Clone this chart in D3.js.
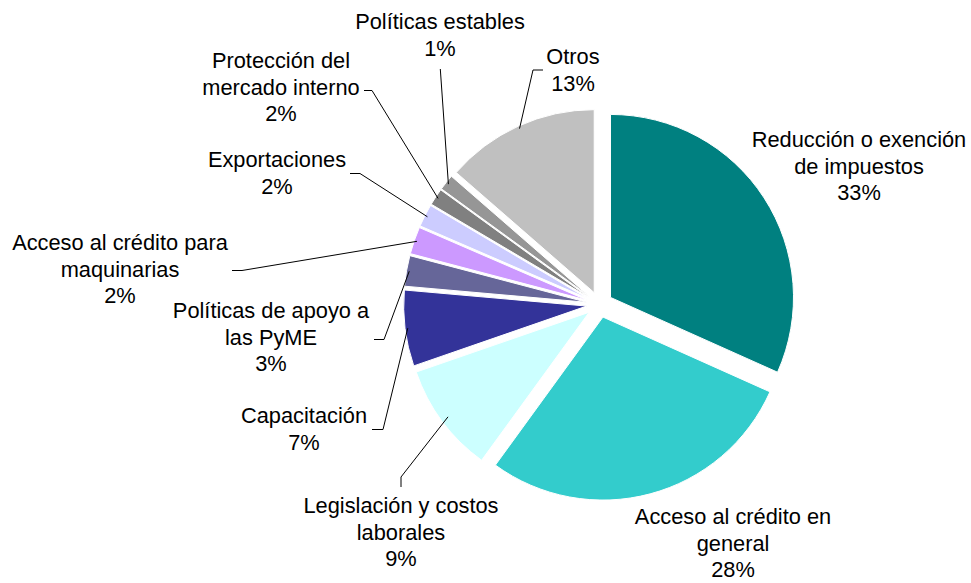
<!DOCTYPE html>
<html>
<head>
<meta charset="utf-8">
<script src="https://cdn.jsdelivr.net/npm/d3@7"></script>
<style>
  html, body { margin: 0; padding: 0; background: #fff; }
  svg { display: block; }
  text { font-family: "Liberation Sans", Arial, sans-serif; fill: #000; }
</style>
</head>
<body>
<svg id="chart" width="971" height="583"></svg>
<script>
// ---- data ----
const categories = [
  "Reducción o exención de impuestos",
  "Acceso al crédito en general",
  "Legislación y costos laborales",
  "Capacitación",
  "Políticas de apoyo a las PyME",
  "Acceso al crédito para maquinarias",
  "Exportaciones",
  "Protección del mercado interno",
  "Políticas estables",
  "Otros"
];
const labelLines = [
  ["Reducción o exención", "de impuestos"],
  ["Acceso al crédito en", "general"],
  ["Legislación y costos", "laborales"],
  ["Capacitación"],
  ["Políticas de apoyo a", "las PyME"],
  ["Acceso al crédito para", "maquinarias"],
  ["Exportaciones"],
  ["Protección del", "mercado interno"],
  ["Políticas estables"],
  ["Otros"]
];
const values = [31.7, 28.3, 9.7, 6.7, 2.7, 2.4, 2.0, 1.5, 1.4, 13.6];
const pctLabels = ["33%", "28%", "9%", "7%", "3%", "2%", "2%", "2%", "1%", "13%"];
const colors = ["#008080", "#33CCCC", "#CCFFFF", "#333399", "#666699",
                "#CC99FF", "#CCCCFF", "#808080", "#969696", "#C0C0C0"];

// ---- layout (label positions and leader elbows) ----
const layout = [
  { x: 859, y: 147, leader: null },
  { x: 733, y: 524, leader: null },
  { x: 401, y: 513, leader: [[401, 487], [401, 477]], r: 0.96 },
  { x: 304, y: 423, leader: [[372, 429.5], [383, 429.5]] },
  { x: 271, y: 318, leader: [[374, 339.5], [384, 339.5]] },
  { x: 120, y: 250, leader: [[232, 270.5], [242, 270.5]] },
  { x: 277, y: 167, leader: [[350, 173.5], [360, 173.5]] },
  { x: 281, y: 68,  leader: [[364, 90.5], [372, 90.5]] },
  { x: 440, y: 29,  leader: [[440.3, 69]] },
  { x: 573, y: 64,  leader: [[543, 70], [533, 70]] }
];

const W = 971, H = 583;
const cx = 599.6, cy = 304.5;
const R = 183, explode = 13;
const fontSize = 21.8, lineH = 26.5;

const svg = d3.select("#chart");
const g = svg.append("g").attr("transform", `translate(${cx},${cy})`);

const pie = d3.pie().sort(null).value(d => d).startAngle(0).endAngle(2 * Math.PI);
const arcs = pie(values);
const arc = d3.arc().innerRadius(0).outerRadius(R);

function dirOf(a) { return [Math.sin(a), -Math.cos(a)]; }

arcs.forEach((a, i) => {
  const mid = (a.startAngle + a.endAngle) / 2;
  const [dx, dy] = dirOf(mid);
  a.offset = [dx * explode, dy * explode];
  a.mid = mid;
});

g.selectAll("path.slice")
  .data(arcs)
  .join("path")
  .attr("class", "slice")
  .attr("d", arc)
  .attr("transform", d => `translate(${d.offset[0]},${d.offset[1]})`)
  .attr("fill", (d, i) => colors[i])
  .attr("stroke", "#fff")
  .attr("stroke-width", 1);

// leader lines
const lineGen = d3.line();
arcs.forEach((a, i) => {
  const L = layout[i];
  if (!L.leader) return;
  const [dx, dy] = dirOf(a.mid);
  const rr = R * (L.r || 0.985);
  const end = [cx + a.offset[0] + dx * rr, cy + a.offset[1] + dy * rr];
  const pts = L.leader.concat([end]);
  svg.append("path")
    .attr("d", lineGen(pts))
    .attr("fill", "none")
    .attr("stroke", "#000")
    .attr("stroke-width", 1);
});

// labels
arcs.forEach((a, i) => {
  const L = layout[i];
  const lines = labelLines[i].concat([pctLabels[i]]);
  const t = svg.append("text")
    .attr("text-anchor", "middle")
    .attr("font-size", fontSize);
  lines.forEach((ln, k) => {
    t.append("tspan")
      .attr("x", L.x)
      .attr("y", L.y + k * lineH)
      .text(ln);
  });
});
</script>
</body>
</html>
